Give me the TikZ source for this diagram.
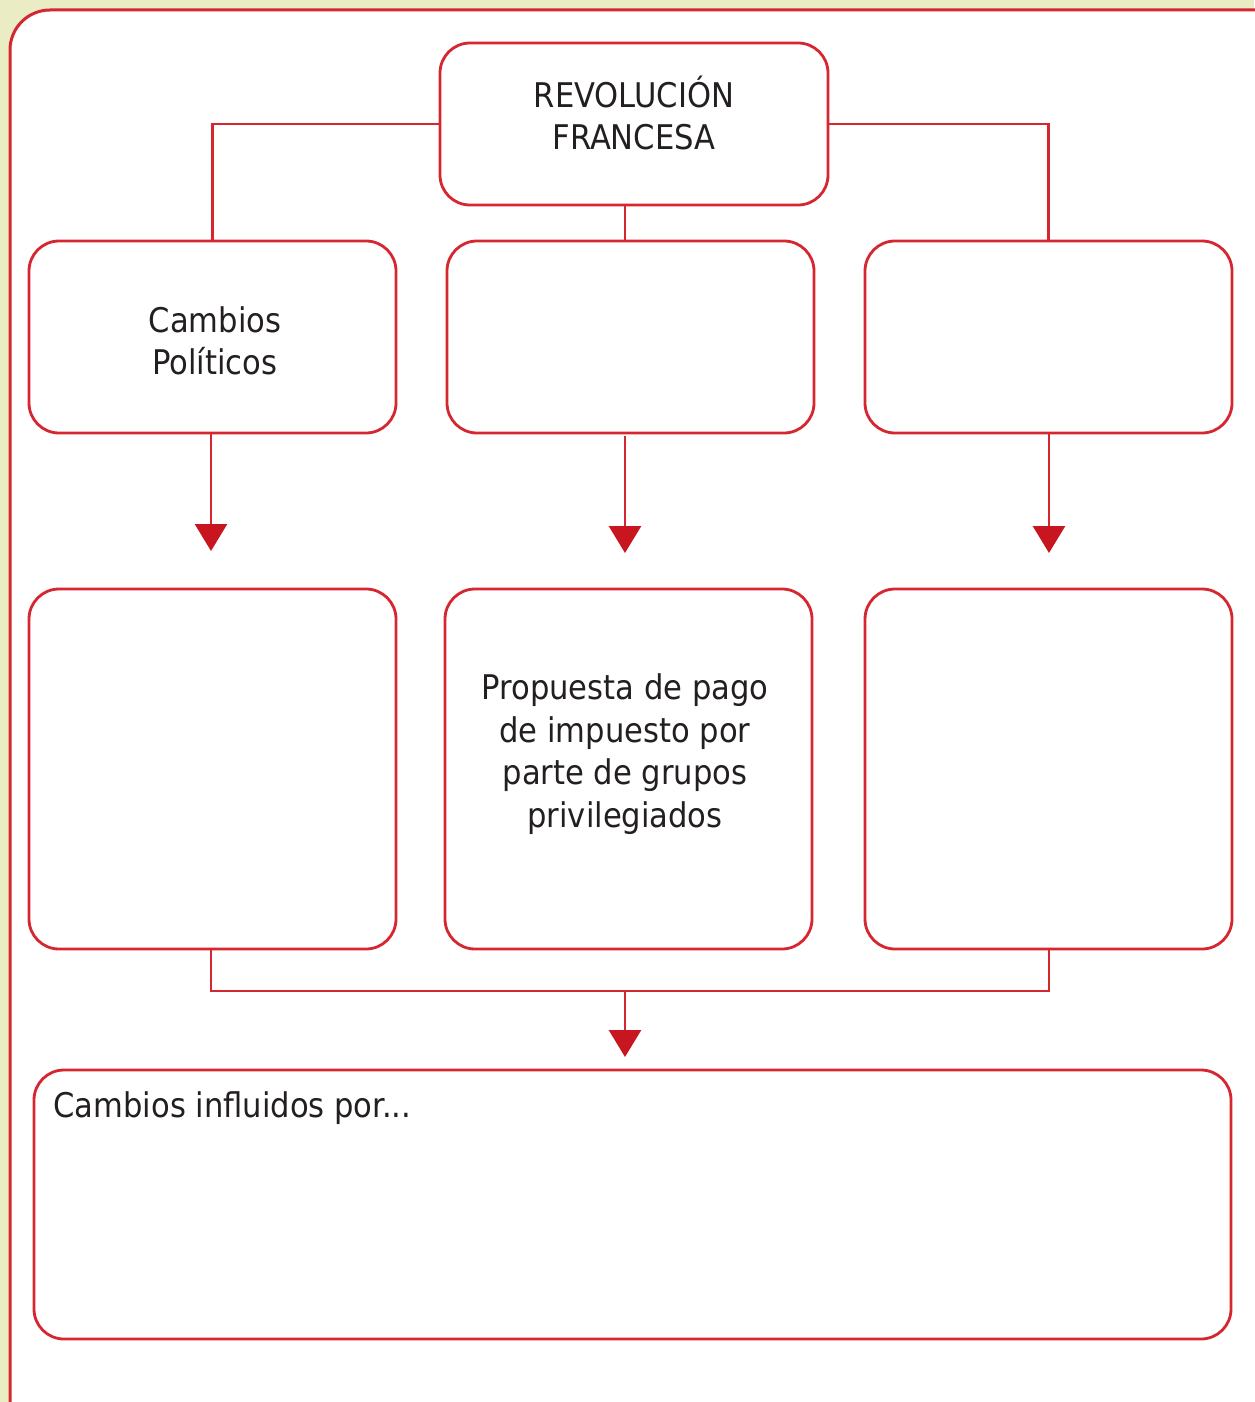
\documentclass[tikz,border=0pt]{standalone}
\usepackage{fontspec}
\setmainfont{DejaVu Sans Condensed}
\usetikzlibrary{arrows.meta}
\definecolor{framered}{RGB}{214,38,48}
\definecolor{tipred}{RGB}{200,22,32}
\definecolor{paper}{RGB}{234,237,196}
\definecolor{ink}{RGB}{35,31,32}
\tikzset{
  box/.style={draw=framered, line width=2.8pt, rounded corners=30pt, fill=white},
  txt/.style={text=ink, align=center, font=\fontsize{34}{42.5}\selectfont},
  link/.style={draw=framered, line width=2.8pt},
  arr/.style={link, -{Triangle[width=32pt,length=27pt,fill=tipred,color=tipred]}}
}
\begin{document}
\begin{tikzpicture}[x=1pt,y=-1pt]
\useasboundingbox (0,0) rectangle (1254,1402);
\fill[paper] (0,0) rectangle (1254,1402);
\draw[framered, line width=3pt, fill=white, rounded corners=40pt] (10,10) rectangle (1300,1450);
% top
\node[box, minimum width=388pt, minimum height=162pt] (revo) at (634,124) {};
\node[txt] (revotxt) at (634,113) {REVOLUCIÓN\\FRANCESA};
% first row
\node[box, minimum width=367pt, minimum height=192pt] (pol) at (212.5,337) {};
\node[txt] (poltxt) at (215,341) {Cambios\\Políticos};
\node[box, minimum width=367pt, minimum height=192pt] (midup) at (630.5,337) {};
\node[box, minimum width=367pt, minimum height=192pt] (rightup) at (1048.5,337) {};
% second row
\node[box, minimum width=367pt, minimum height=360pt] (leftdown) at (212.5,769) {};
\node[box, minimum width=367pt, minimum height=360pt] (middown) at (628.5,769) {};
\node[txt] (taxtxt) at (625,754) {Propuesta de pago\\de impuesto por\\parte de grupos\\privilegiados};
\node[box, minimum width=367pt, minimum height=360pt] (rightdown) at (1048.5,769) {};
% bottom
\node[box, minimum width=1197pt, minimum height=269pt] (sum) at (632.5,1204.5) {};
\node[txt, anchor=west] (sumtxt) at (50,1108) {Cambios influidos por...};
% connectors
\draw[link] (revo.west) -| (pol.north);
\draw[link] (revo.east) -| (rightup.north);
\draw[link] (625,205) -- (625,241);
\draw[arr] (211,433) -- (211,551);
\draw[arr] (625,436) -- (625,553);
\draw[arr] (1049,433) -- (1049,553);
\coordinate (merge) at (625,991);
\draw[link] (leftdown.south -| 211,0) |- (merge) -| (rightdown.south -| 1049,0);
\draw[arr] (merge) -- (625,1057);
\end{tikzpicture}
\end{document}
